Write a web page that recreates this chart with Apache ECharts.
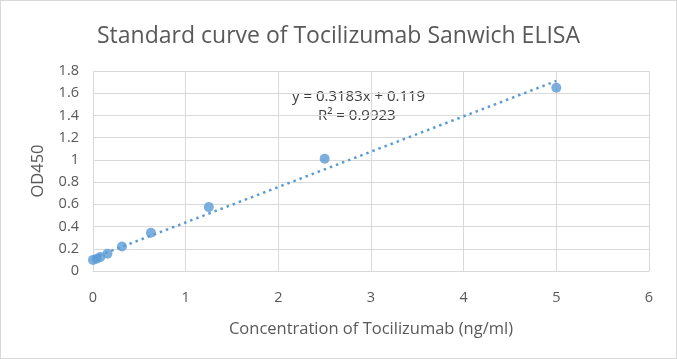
<!DOCTYPE html>
<html><head><meta charset="utf-8">
<script src="https://cdn.jsdelivr.net/npm/echarts@6/dist/echarts.min.js"></script>
<style>html,body{margin:0;padding:0;background:#fff}#c{width:677px;height:359px;box-sizing:border-box;border:1px solid #d9d9d9}</style>
</head><body><div id="c"></div>
<script>
const concentration = [0, 0.039, 0.078, 0.156, 0.3125, 0.625, 1.25, 2.5, 5];
const od450 = [0.10, 0.11, 0.125, 0.155, 0.22, 0.345, 0.575, 1.01, 1.65];
const trendX = [0, 5];
const trendY = [0.119, 1.7105];
const xTicks = [0, 1, 2, 3, 4, 5, 6];
const yTicks = [0, 0.2, 0.4, 0.6, 0.8, 1, 1.2, 1.4, 1.6, 1.8];
const equationText = 'y = 0.3183x + 0.119';
const r2Text = 'R² = 0.9923';

const font = '"Open Sans", "Liberation Sans", sans-serif';
const grey = '#595959';
const chart = echarts.init(document.getElementById('c'));
chart.setOption({
  animation: false,
  textStyle: {fontFamily: font},
  title: {text: 'Standard curve of Tocilizumab Sanwich ELISA', left: 'center', top: 19,
    textStyle: {fontFamily: font, fontSize: 23, fontWeight: 'normal', color: grey}},
  grid: {left: 92, right: 27, top: 70, bottom: 87},
  xAxis: {type: 'value', min: xTicks[0], max: xTicks[xTicks.length-1], interval: 1,
    name: 'Concentration of Tocilizumab (ng/ml)', nameLocation: 'middle', nameGap: 50,
    nameTextStyle: {fontSize: 16.5, color: grey, fontFamily: font},
    axisLine: {show: true, lineStyle: {color: '#d9d9d9'}}, axisTick: {show: false},
    axisLabel: {color: grey, fontSize: 14.5, margin: 19, fontFamily: font},
    splitLine: {show: true, lineStyle: {color: '#d9d9d9'}}},
  yAxis: {type: 'value', min: yTicks[0], max: yTicks[yTicks.length-1], interval: 0.2,
    name: 'OD450', nameLocation: 'middle', nameGap: 46,
    nameTextStyle: {fontSize: 16.5, color: grey, fontFamily: font},
    axisLine: {show: false}, axisTick: {show: false},
    axisLabel: {color: grey, fontSize: 14.5, margin: 14, fontFamily: font,
      formatter: v => String(Math.round(v*10)/10)},
    splitLine: {show: true, lineStyle: {color: '#d9d9d9'}}},
  series: [
    {type: 'line', data: trendX.map((x,i)=>[x, trendY[i]]), showSymbol: false, symbol: 'none',
     lineStyle: {color: '#5B9BD5', width: 2.5, type: [2.5, 4]}, z: 2, silent: true},
    {type: 'scatter', data: concentration.map((x,i)=>[x, od450[i]]), symbolSize: 10,
     itemStyle: {color: '#5B9BD5'}, z: 3}
  ],
  graphic: [
    {type: 'text', left: 291, top: 88, style: {text: equationText, fontSize: 15, fill: '#404040', fontFamily: font}},
    {type: 'text', left: 317, top: 107, style: {text: r2Text, fontSize: 15, fill: '#404040', fontFamily: font}}
  ]
});
</script></body></html>
